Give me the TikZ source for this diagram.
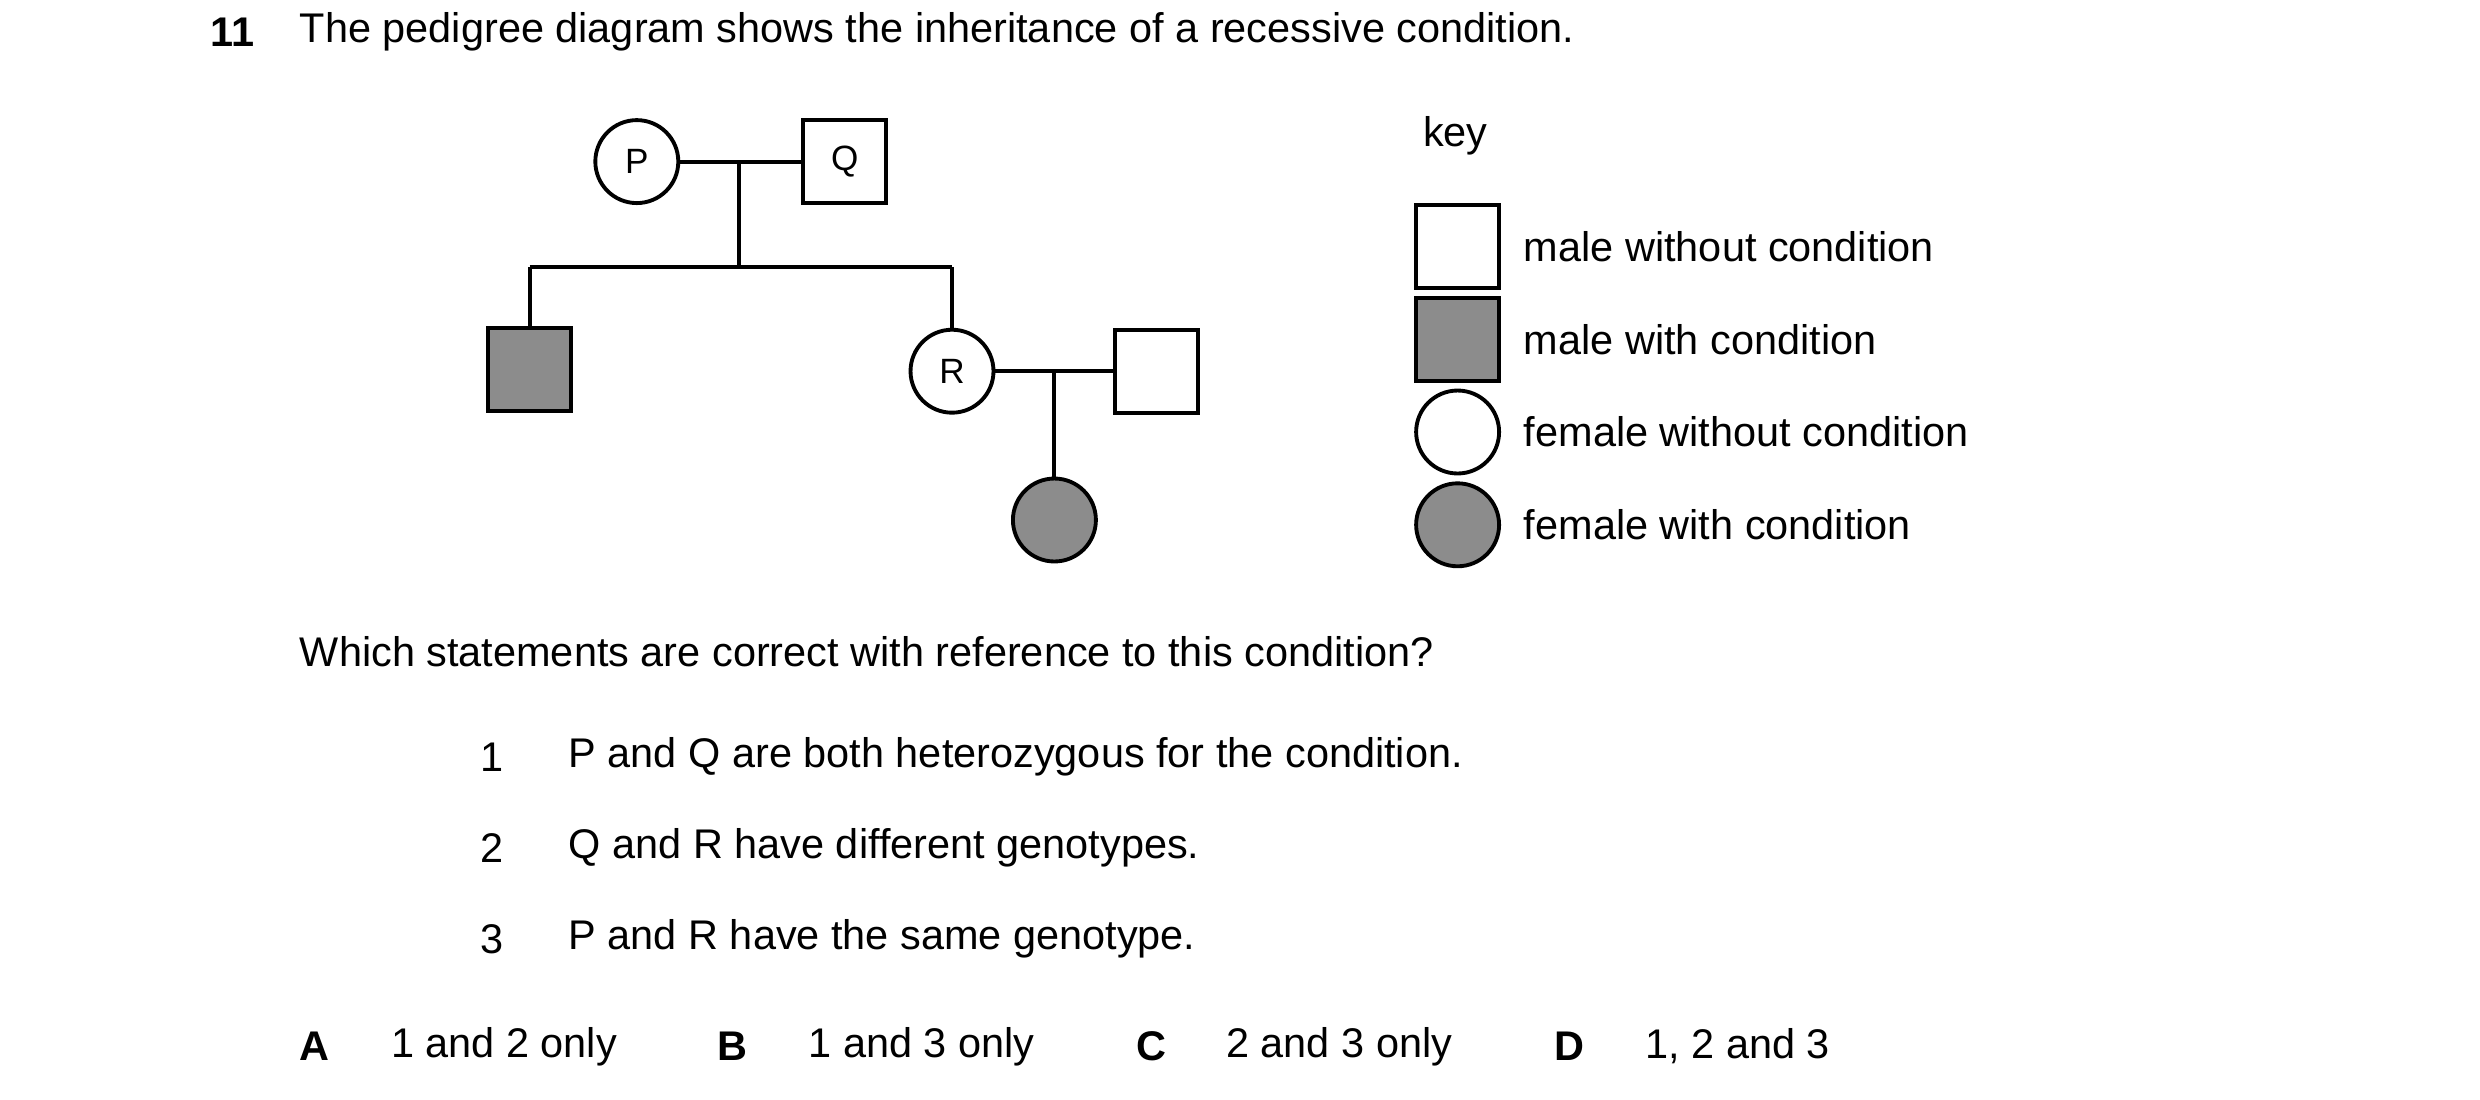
\documentclass[tikz,border=0pt]{standalone}
\usepackage{fontspec}
\setmainfont{Liberation Sans}
\usetikzlibrary{positioning}
\definecolor{affected}{RGB}{140,140,140}
\tikzset{
  male/.style={draw,line width=1.1pt,minimum size=0.83cm,inner sep=0pt},
  female/.style={draw,circle,line width=1.1pt,minimum size=0.83cm,inner sep=0pt},
  link/.style={line width=1.1pt},
  txt/.style={anchor=west,inner sep=0pt,font=\fontsize{11.8}{14}\selectfont}
}
\begin{document}
\begin{tikzpicture}[x=0.016cm,y=-0.016cm]
\useasboundingbox (0,0) rectangle (1550,687);
% Question
\node[txt,font=\fontsize{11.8}{14}\selectfont\bfseries] (num) at (131,20) {11};
\node[txt] (title) at (187,20) {The pedigree diagram shows the inheritance of a recessive condition.};

% Generation 1
\node[female] (P) at (398,101) {P};
\node[male] (Q) at (528,101) {Q};
\coordinate (pq) at (462,101);
\coordinate (bar) at (462,167);
\coordinate (barL) at (331,167);
\coordinate (barR) at (595,167);

% Generation 2
\node[male,fill=affected] (son) at (331,231) {};
\node[female] (R) at (595,232) {R};
\node[male] (husb) at (723,232) {};
\coordinate (rh) at (659,232);
\node[female,fill=affected] (dau) at (659,325) {};

% Edges
\draw[link] (P) -- (Q);
\draw[link] (pq) -- (bar);
\draw[link] (barL) -- (barR);
\draw[link] (barL) -- (son);
\draw[link] (barR) -- (R);
\draw[link] (R) -- (husb);
\draw[link] (rh) -- (dau);

% Key
\node[txt] (key) at (889,85) {key};
\node[male] (k1) at (911,154) {};
\node[male,fill=affected] (k2) at (911,212) {};
\node[female] (k3) at (911,270) {};
\node[female,fill=affected] (k4) at (911,328) {};
\node[txt] at (952,154) {male without condition};
\node[txt] at (952,212) {male with condition};
\node[txt] at (952,270) {female without condition};
\node[txt] at (952,328) {female with condition};

% Statements
\node[txt] (ask) at (187,407) {Which statements are correct with reference to this condition?};
\node[txt] (s1) at (300,473) {1};
\node[txt] at (355,473) {P and Q are both heterozygous for the condition.};
\node[txt] (s2) at (300,530) {2};
\node[txt] at (355,530) {Q and R have different genotypes.};
\node[txt] (s3) at (300,587) {3};
\node[txt] at (355,587) {P and R have the same genotype.};

% Options
\node[txt,font=\fontsize{11.8}{14}\selectfont\bfseries] at (187,654) {A};
\node[txt] at (244,654) {1 and 2 only};
\node[txt,font=\fontsize{11.8}{14}\selectfont\bfseries] at (448,654) {B};
\node[txt] at (505,654) {1 and 3 only};
\node[txt,font=\fontsize{11.8}{14}\selectfont\bfseries] at (710,654) {C};
\node[txt] at (766,654) {2 and 3 only};
\node[txt,font=\fontsize{11.8}{14}\selectfont\bfseries] at (971,654) {D};
\node[txt] at (1028,654) {1, 2 and 3};
\end{tikzpicture}
\end{document}
